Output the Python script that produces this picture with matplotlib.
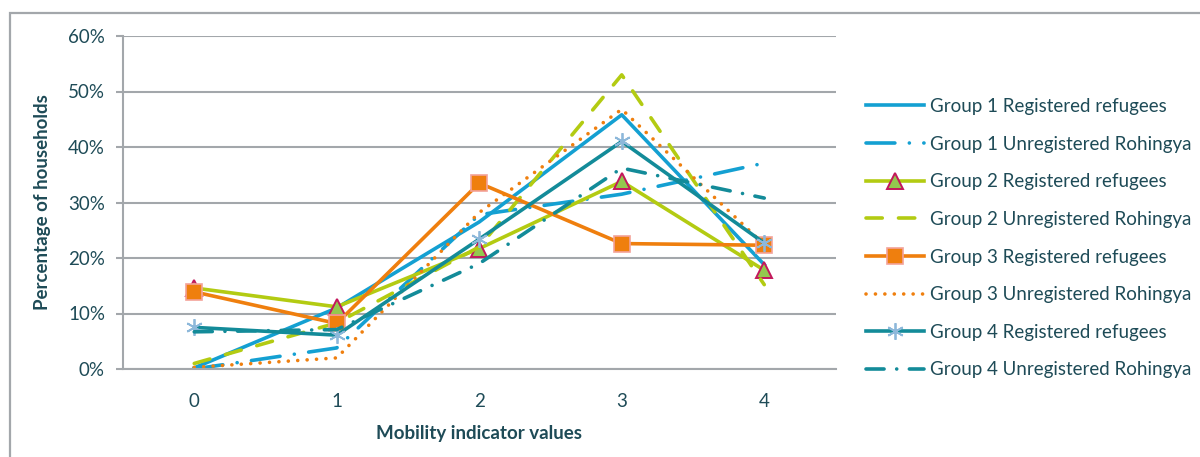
import matplotlib as mpl
mpl.use('Agg')

import numpy as np
import matplotlib.pyplot as plt
from matplotlib.patches import Rectangle

# --- dados ---
mobilidade = [0, 1, 2, 3, 4]

g1_registrados = [0.2, 11.0, 26.5, 45.8, 18.8]
g1_nao_registrados = [0.0, 3.8, 27.8, 31.5, 37.1]
g2_registrados = [14.6, 11.2, 21.7, 33.8, 17.8]
g2_nao_registrados = [1.0, 8.3, 22.0, 53.0, 15.2]
g3_registrados = [13.9, 8.2, 33.5, 22.6, 22.3]
g3_nao_registrados = [0.3, 2.0, 28.2, 46.8, 22.4]
g4_registrados = [7.5, 6.1, 23.4, 41.0, 22.7]
g4_nao_registrados = [6.7, 7.1, 19.0, 36.2, 30.8]

rotulos = [
    'Group 1 Registered refugees',
    'Group 1 Unregistered Rohingya',
    'Group 2 Registered refugees',
    'Group 2 Unregistered Rohingya',
    'Group 3 Registered refugees',
    'Group 3 Unregistered Rohingya',
    'Group 4 Registered refugees',
    'Group 4 Unregistered Rohingya',
]

# cores
AZUL = '#14A0D2'
VERDE = '#B3CB12'
LARANJA = '#EF7F0E'
PETROLEO = '#138B99'
TEXTO = '#1E4B57'
CINZA = '#A3A7AB'

plt.rcParams['font.family'] = ['Lato', 'DejaVu Sans']

fig = plt.figure(figsize=(12, 4.57), dpi=100)
ax = fig.add_axes([123 / 1200, 1 - 369 / 457, (835.5 - 123) / 1200, (369 - 36) / 457])

# moldura externa do gráfico
fig.patches.append(Rectangle((10 / 1200, -0.1), 1.2, 1 - 13 / 457 + 0.1,
                             transform=fig.transFigure, fill=False,
                             edgecolor=CINZA, lw=1.6))

lw = 2.6
ax.plot(mobilidade, g1_registrados, color=AZUL, lw=lw, label=rotulos[0])
ax.plot(mobilidade, g1_nao_registrados, color=AZUL, lw=lw, dashes=(8, 4, 0.01, 4),
        dash_capstyle='round', label=rotulos[1])
ax.plot(mobilidade, g2_registrados, color=VERDE, lw=lw, marker='^', markersize=11,
        markerfacecolor='#93C94E', markeredgecolor='#C3175C', markeredgewidth=1.4,
        label=rotulos[2])
ax.plot(mobilidade, g2_nao_registrados, color=VERDE, lw=lw, dashes=(4.5, 4.5),
        dash_capstyle='round', label=rotulos[3])
ax.plot(mobilidade, g3_registrados, color=LARANJA, lw=lw, marker='s', markersize=11,
        markerfacecolor=LARANJA, markeredgecolor='#F3A39A', markeredgewidth=1.2,
        label=rotulos[4])
ax.plot(mobilidade, g3_nao_registrados, color=LARANJA, lw=lw, dashes=(0.01, 2.6),
        dash_capstyle='round', label=rotulos[5])
ax.plot(mobilidade, g4_registrados, color=PETROLEO, lw=lw, marker=(6, 2, 0), markersize=12,
        markeredgecolor='#8DB8DA', markeredgewidth=1.3, label=rotulos[6])
ax.plot(mobilidade, g4_nao_registrados, color=PETROLEO, lw=lw, dashes=(5, 3.5, 0.01, 3.5),
        dash_capstyle='round', label=rotulos[7])

ax.set_xlim(-0.5, 4.5)
ax.set_ylim(0, 60)
ax.set_xticks(mobilidade)
ax.set_yticks(np.arange(0, 61, 10))
ax.set_yticklabels([f'{v}%' for v in range(0, 61, 10)])

ax.grid(axis='y', color=CINZA, lw=1.5)
ax.set_axisbelow(True)
for lado in ['top', 'right']:
    ax.spines[lado].set_visible(False)
for lado in ['left', 'bottom']:
    ax.spines[lado].set_color(CINZA)
    ax.spines[lado].set_linewidth(1.5)

ax.tick_params(axis='y', colors=CINZA, labelcolor=TEXTO, labelsize=13.5,
               length=5, width=1.5, pad=8)
ax.tick_params(axis='x', length=0, labelcolor=TEXTO, labelsize=13.5, pad=17)

ax.set_xlabel('Mobility indicator values', color=TEXTO, fontsize=13.5,
              fontweight='bold', labelpad=11)
ax.set_ylabel('Percentage of households', color=TEXTO, fontsize=13.5,
              fontweight='bold', labelpad=12)

leg = ax.legend(loc='upper left', bbox_to_anchor=(866 / 1200, 1 - 98 / 457),
                bbox_transform=fig.transFigure, frameon=False, fontsize=13.5,
                handlelength=3.1, handletextpad=0.3, labelspacing=1.1,
                borderaxespad=0, borderpad=0)
for txt in leg.get_texts():
    txt.set_color(TEXTO)

fig.savefig('out.png', dpi=100)
